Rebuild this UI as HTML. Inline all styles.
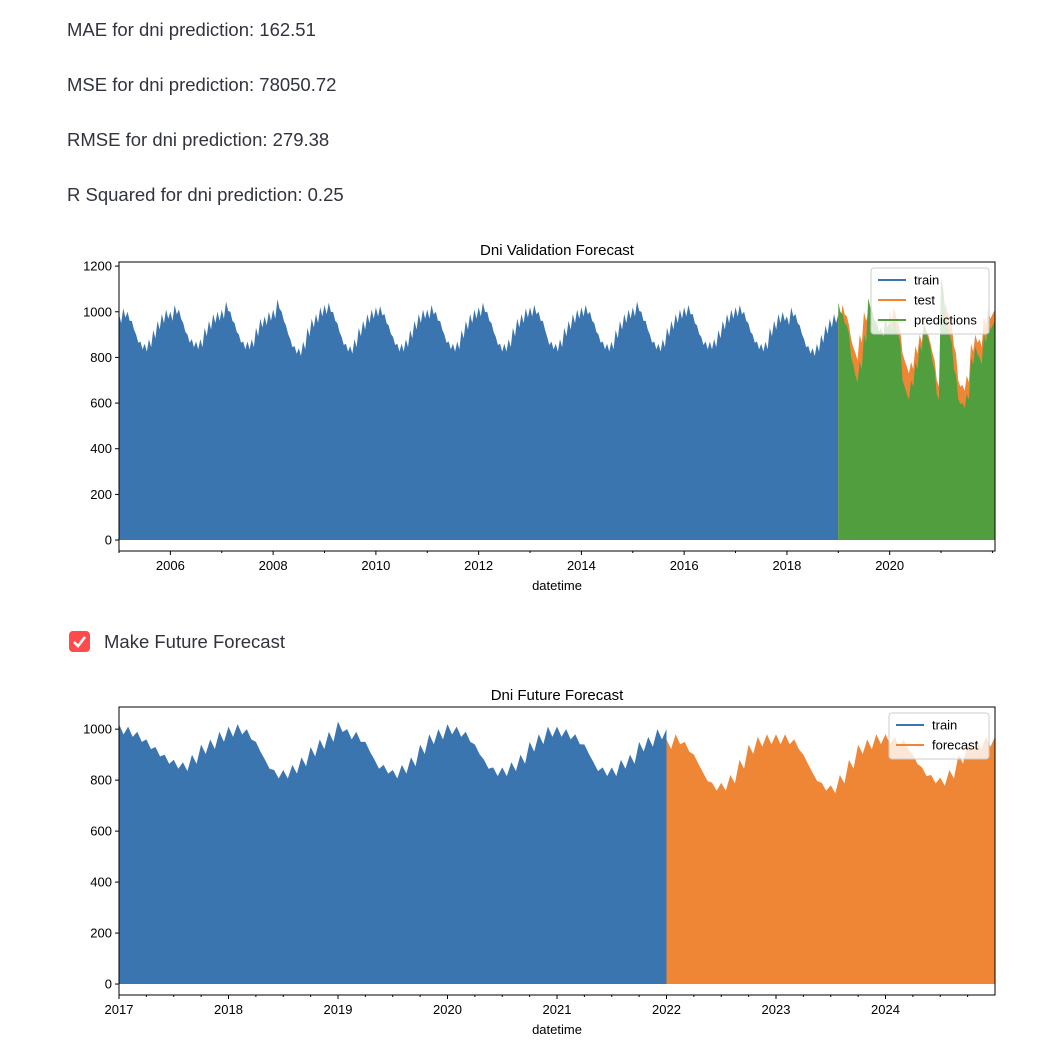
<!DOCTYPE html>
<html><head><meta charset="utf-8">
<style>
body{margin:0;background:#fff;width:1048px;height:1056px;overflow:hidden;font-family:"Liberation Sans","DejaVu Sans",sans-serif}
.metric{position:absolute;left:67px;font-size:18.5px;color:#31333f}
svg{position:absolute;left:0;top:0}
</style></head><body>
<div class="metric" style="top:19px">MAE for dni prediction: 162.51</div>
<div class="metric" style="top:74px">MSE for dni prediction: 78050.72</div>
<div class="metric" style="top:129px">RMSE for dni prediction: 279.38</div>
<div class="metric" style="top:184px">R Squared for dni prediction: 0.25</div>
<div style="position:absolute;left:69px;top:631px;width:21px;height:21px;border-radius:4px;background:#ff4b4b">
<svg width="21" height="21" style="position:static"><path d="M5 11 L9 15 L16 6" stroke="#fff" stroke-width="2.6" fill="none"/></svg></div>
<div class="metric" style="top:631px;left:104px">Make Future Forecast</div>
<svg id="c" width="1048" height="1056"></svg>
<script>
const trainTop=[990,1015,1000,960,900,870,860,880,920,960,990,1010,
1000,1030,1010,950,900,880,870,880,930,960,990,1000,
1010,1045,1000,950,900,870,870,880,930,970,980,1000,
1010,1055,1000,940,880,850,840,870,930,970,990,1020,
1030,1040,1000,950,890,860,850,880,930,960,990,1010,
1020,1025,990,940,890,860,860,880,920,960,990,1010,
1010,1030,1000,960,900,870,860,870,920,960,990,1010,
1020,1040,1000,950,890,860,860,880,930,970,990,1015,
1020,1030,1000,960,890,870,860,880,930,960,990,1010,
1020,1030,1000,950,900,870,860,870,920,960,990,1010,
1020,1045,1000,960,900,870,860,880,930,960,990,1010,
1020,1030,990,940,890,870,870,880,920,960,990,1010,
1020,1030,1000,950,900,870,860,870,930,960,990,1000,
980,1020,990,940,880,850,840,860,900,940,970,990];
const testTop=[1000,1030,980,880,820,900,1000,990,960,880,860,940,1000,1020,950,820,760,780,850,900,960,900,820,700,1000,1040,980,850,700,680,720,860,900,880,980,1010];
const predTop=[1040,990,940,800,720,780,900,1060,1000,950,930,970,950,980,900,700,640,700,780,860,950,880,780,640,1150,990,900,750,620,600,640,800,850,800,900,960];
const trainBot=[1020,1010,990,960,930,900,880,870,900,940,960,990,
1010,1020,1000,950,880,840,840,860,890,930,960,990,
1030,1000,990,950,880,860,840,860,890,940,980,1000,
1020,1010,990,940,880,850,850,870,900,950,980,1010,
1010,1000,980,940,870,850,850,880,900,950,970,1000];
const fcBot=[960,980,950,900,830,790,790,820,880,940,970,980,
980,980,960,900,830,790,780,820,880,940,960,980,
980,970,960,900,850,820,810,840,900,950,960,970];
const c=document.getElementById('c');const NS='http://www.w3.org/2000/svg';
function el(t,a,txt){const e=document.createElementNS(NS,t);for(const k in a)e.setAttribute(k,a[k]);if(txt!=null)e.textContent=txt;c.appendChild(e);return e;}
function chart(o){
 const X=v=>o.l+(v-o.x0)/(o.x1-o.x0)*(o.r-o.l);
 const Y=v=>o.b-(v-o.y0)/(o.y1-o.y0)*(o.b-o.t);
 function area(vals,start,end,color,name){
  let d='M'+X(start)+','+Y(0);
  vals.forEach((v,i)=>{d+=' L'+X(start+i/12)+','+Y(v)+' L'+X(start+(i+0.5)/12)+','+Y(v*0.96);});
  d+=' L'+X(end)+','+Y(vals[vals.length-1])+' L'+X(end)+','+Y(0)+'Z';
  const p=el('path',{d:d,fill:color});
  
  
 }
 o.series.forEach(s=>area(s.v,s.s,s.e,s.c,s.n));
 el('rect',{x:o.l,y:o.t,width:o.r-o.l,height:o.b-o.t,fill:'none',stroke:'#000','stroke-width':1});
 o.yt.forEach(v=>{const y=Y(v);el('line',{x1:o.l-4,x2:o.l,y1:y,y2:y,stroke:'#000'});
  const t=el('text',{x:o.l-7,y:y+4.5,'text-anchor':'end','font-size':13},v);
  });
 o.xt.forEach(v=>{const x=X(v);el('line',{x1:x,x2:x,y1:o.b,y2:o.b+4,stroke:'#000'});
  const t=el('text',{x:x,y:o.b+19,'text-anchor':'middle','font-size':13},v);
  });
 o.minor.forEach(v=>{const x=X(v);el('line',{x1:x,x2:x,y1:o.b,y2:o.b+2,stroke:'#000'});});
 const ti=el('text',{x:(o.l+o.r)/2,y:o.t-7,'text-anchor':'middle','font-size':15},o.title);
 
 const xl=el('text',{x:(o.l+o.r)/2,y:o.b+39,'text-anchor':'middle','font-size':13},'datetime');
 
 const lg=o.legend;const lh=20*lg.length+6;
 const lb=el('rect',{x:o.r-lg.w-6,y:o.t+6,width:lg.w,height:lh,fill:'#fff','fill-opacity':0.8,stroke:'#ccc',rx:3});
 
 lg.forEach((e,i)=>{const y=o.t+18+i*20;
  el('line',{x1:o.r-lg.w+1,x2:o.r-lg.w+29,y1:y,y2:y,stroke:e.c,'stroke-width':2});
  const t=el('text',{x:o.r-lg.w+37,y:y+4.5,'font-size':13},e.n);
  });
}
const leg1=[{n:'train',c:'#3b75af'},{n:'test',c:'#ef8636'},{n:'predictions',c:'#519e3e'}];leg1.w=118;
chart({l:119,r:995,t:262,b:551,x0:2005,x1:2022.05,y0:-48,y1:1218,title:'Dni Validation Forecast',
 yt:[0,200,400,600,800,1000,1200],xt:[2006,2008,2010,2012,2014,2016,2018,2020],minor:[2005,2007,2009,2011,2013,2015,2017,2019,2021,2022],
 series:[{v:trainTop,s:2005,e:2019,c:'#3b75af',n:'train-area'},{v:testTop,s:2019,e:2022.05,c:'#ef8636',n:'test-area'},{v:predTop,s:2019,e:2022.05,c:'#519e3e',n:'predictions-area'}],legend:leg1});
const leg2=[{n:'train',c:'#3b75af'},{n:'forecast',c:'#ef8636'}];leg2.w=100;
chart({l:119,r:995,t:707,b:995,x0:2017,x1:2025,y0:-43,y1:1087,title:'Dni Future Forecast',
 yt:[0,200,400,600,800,1000],xt:[2017,2018,2019,2020,2021,2022,2023,2024],minor:[2017.25,2017.5,2017.75,2018.25,2018.5,2018.75,2019.25,2019.5,2019.75,2020.25,2020.5,2020.75,2021.25,2021.5,2021.75,2022.25,2022.5,2022.75,2023.25,2023.5,2023.75,2024.25,2024.5,2024.75],
 series:[{v:trainBot,s:2017,e:2022,c:'#3b75af',n:'train-area'},{v:fcBot,s:2022,e:2025,c:'#ef8636',n:'forecast-area'}],legend:leg2});
</script>
</body></html>
